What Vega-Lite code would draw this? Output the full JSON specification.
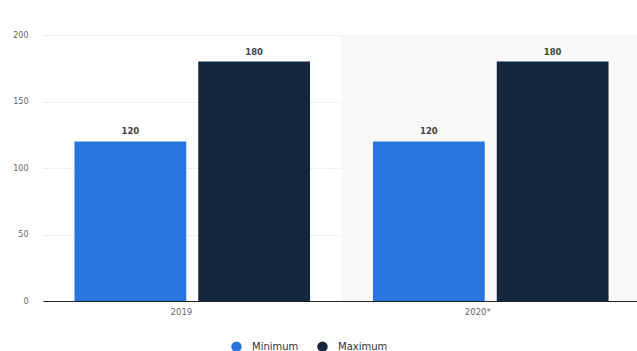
{
  "$schema": "https://vega.github.io/schema/vega-lite/v6.json",
  "autosize": "none",
  "width": 597,
  "height": 266,
  "padding": {"left": 43, "top": 35, "right": 0, "bottom": 50},
  "background": "white",
  "config": {
    "view": {"stroke": null},
    "font": "DejaVu Sans"
  },
  "datasets": {
    "bars": [
      {"year": "2019", "type": "Minimum", "value": 120},
      {"year": "2019", "type": "Maximum", "value": 180},
      {"year": "2020*", "type": "Minimum", "value": 120},
      {"year": "2020*", "type": "Maximum", "value": 180}
    ],
    "shade": [
      {"year": "2020*", "top": 200}
    ]
  },
  "layer": [
    {
      "data": {"name": "shade"},
      "mark": {"type": "bar", "color": "#f8f8f8", "width": {"band": 1}},
      "encoding": {
        "x": {"field": "year", "type": "nominal", "scale": {"domain": ["2019", "2020*"], "paddingInner": 0, "paddingOuter": 0}},
        "y": {"field": "top", "type": "quantitative"}
      }
    },
    {
      "data": {"name": "bars"},
      "layer": [
        {
          "mark": {"type": "bar"},
          "encoding": {
            "color": {
              "field": "type", "type": "nominal",
              "scale": {"domain": ["Minimum", "Maximum"], "range": ["#2876dd", "#13283d"]},
              "legend": {
                "title": null, "orient": "none", "direction": "horizontal",
                "legendX": 188, "legendY": 306,
                "symbolType": "circle", "symbolSize": 110, "symbolStrokeWidth": 0,
                "labelFontSize": 10, "labelColor": "#333333", "labelFont": "DejaVu Sans",
                "labelOffset": 10, "columnPadding": 18, "symbolOffset": 0
              }
            }
          }
        },
        {
          "mark": {"type": "text", "dy": -10, "fontSize": 8.5, "fontWeight": "bold", "color": "#444444"},
          "encoding": {
            "text": {"field": "value", "type": "quantitative"}
          }
        }
      ],
      "encoding": {
        "x": {
          "field": "year", "type": "nominal",
          "scale": {"domain": ["2019", "2020*"], "paddingInner": 0, "paddingOuter": 0},
          "axis": {
            "title": null, "labelAngle": 0, "ticks": false, "domainColor": "#222222",
            "domainWidth": 1, "labelColor": "#666666", "labelFontSize": 8.5, "labelPadding": 10
          }
        },
        "xOffset": {
          "field": "type", "type": "nominal",
          "scale": {"domain": ["Minimum", "Maximum"], "paddingInner": 0.097, "paddingOuter": 0.254}
        },
        "y": {
          "field": "value", "type": "quantitative",
          "scale": {"domain": [0, 200]},
          "axis": {
            "title": null, "values": [0, 50, 100, 150, 200], "domain": false, "ticks": false,
            "gridDash": [1, 2], "gridColor": "#d0d0d0", "labelColor": "#666666",
            "labelFontSize": 8, "labelPadding": 15
          }
        }
      }
    }
  ]
}
